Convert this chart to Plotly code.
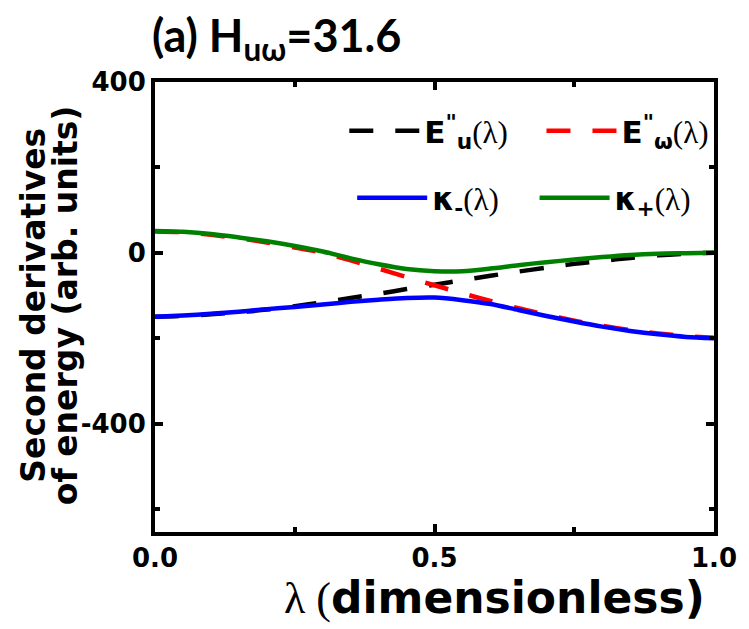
import plotly.graph_objects as go

lam = [0.00, 0.05, 0.10, 0.15, 0.20, 0.25, 0.30, 0.35, 0.40, 0.45, 0.50,
       0.55, 0.60, 0.65, 0.70, 0.75, 0.80, 0.85, 0.90, 0.95, 1.00]
E_u = [-150, -148, -144, -139, -133, -125, -116, -106, -96, -85, -75,
       -64, -54, -44, -35, -26, -19, -12, -6, -2, 0]
E_w = [50, 48, 42, 34, 24, 12, 0, -18, -37, -57, -76,
       -95, -113, -130, -145, -159, -171, -181, -189, -195, -199]
kappa_minus = [-150, -147, -143, -138, -132, -127, -121, -115, -110, -106, -105,
               -111, -120, -134, -148, -161, -173, -183, -191, -197, -200]
kappa_plus = [51, 49, 44, 36, 27, 16, 3, -13, -27, -38, -43,
              -43, -37, -29, -22, -16, -10, -5, -2, -1, 0]

x_ticks = [0.0, 0.5, 1.0]
x_ticktext = ["0.0", "0.5", "1.0"]
y_ticks = [-400, 0, 400]
y_ticktext = ["-400", "0", "400"]

W, H = 749, 629
L, R, T, B = 155, 27, 82, 97
pw, ph = W - L - R, H - T - B

def px(xp):
    return (xp - L) / pw

def py(yp):
    return (H - B - yp) / ph

SANS = "DejaVu Sans"
LAM = '<span style="font-family:Liberation Serif;font-weight:normal">(λ)</span>'

fig = go.Figure()
series = [
    (E_u, "black", "dash", "<b>E<sup>\"</sup><sub>u</sub></b>" + LAM, "legend"),
    (E_w, "red", "dash", "<b>E<sup>\"</sup><sub>ω</sub></b>" + LAM, "legend2"),
    (kappa_minus, "blue", "solid", "<b>κ<sub>-</sub></b>" + LAM, "legend3"),
    (kappa_plus, "green", "solid", "<b>κ<sub>+</sub></b>" + LAM, "legend4"),
]
for ys, col, dash, name, leg in series:
    fig.add_trace(go.Scatter(
        x=lam, y=ys, mode="lines", name=name, legend=leg,
        line=dict(color=col, width=4.5, dash=("24px,22px" if dash == "dash" else "solid"),
                  shape="spline", smoothing=0.8),
    ))

legfont = dict(family=SANS, size=31, color="black")
def leg(xs, yc):
    return dict(x=px(xs), y=py(yc), xanchor="left", yanchor="middle",
                orientation="h", itemwidth=70, font=legfont,
                bgcolor="rgba(0,0,0,0)", borderwidth=0, itemclick=False)

axis_common = dict(
    showline=True, linewidth=4, linecolor="black", mirror="ticks",
    ticks="inside", ticklen=8, tickwidth=4, tickcolor="black",
    showgrid=False, zeroline=False,
    tickfont=dict(family=SANS, size=26, color="black", weight="bold"),
)

fig.update_layout(
    width=W, height=H,
    margin=dict(l=L, r=R, t=T, b=B),
    plot_bgcolor="white", paper_bgcolor="white",
    showlegend=True,
    legend=leg(347, 131),
    legend2=leg(547, 131),
    legend3=leg(355, 198),
    legend4=leg(540, 198),
    xaxis=dict(range=[0, 1], tickvals=x_ticks, ticktext=x_ticktext,
               minor=dict(dtick=0.25, ticks="inside", ticklen=5, tickwidth=4, tickcolor="black"),
               **axis_common),
    yaxis=dict(range=[-654, 400], tickvals=y_ticks, ticktext=y_ticktext,
               minor=dict(dtick=200, ticks="inside", ticklen=5, tickwidth=4, tickcolor="black"),
               **axis_common),
)

fig.add_annotation(
    text="(a) H<sub>uω</sub>=31.6", xref="paper", yref="paper",
    x=px(150), y=py(6), xanchor="left", yanchor="top", showarrow=False,
    font=dict(family="Lato", size=45, color="black", weight="bold"),
)
fig.add_annotation(
    text='<span style="font-family:Liberation Serif;font-weight:normal">λ (</span>dimensionless)',
    xref="paper", yref="paper", x=px(499), y=py(597), xanchor="center", yanchor="middle",
    showarrow=False, font=dict(family=SANS, size=44, color="black", weight="bold"),
)
for line_text, xc in [("Second derivatives", 31), ("of energy (arb. units)", 64)]:
    fig.add_annotation(
        text=line_text,
        xref="paper", yref="paper", x=px(xc), y=py(305), xanchor="center", yanchor="middle",
        textangle=-90, showarrow=False,
        font=dict(family=SANS, size=33, color="black", weight="bold"),
    )

fig.write_html("out.html")
